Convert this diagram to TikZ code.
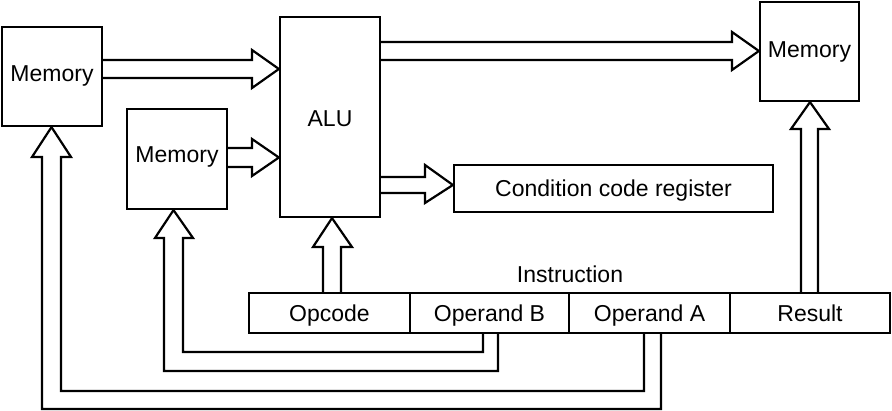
\documentclass[tikz,border=0pt]{standalone}
\usepackage{fontspec}
\setmainfont{Liberation Sans}
\begin{document}
\begin{tikzpicture}[x=1pt,y=-1pt,
  txt/.style={font=\fontsize{23}{27}\selectfont, text height=16pt, text depth=0pt},
  box/.style={draw, rectangle, inner sep=0pt, line width=2.2pt, txt},
  conn/.style={draw, line width=2.2pt, line join=miter}]
\useasboundingbox (0,0) rectangle (892,411);
% boxes
\node[box, minimum width=100pt, minimum height=99pt, text depth=5pt] (m1) at (52,76.5) {Memory};
\node[box, minimum width=100pt, minimum height=100pt, text depth=8pt] (m2) at (177,159) {Memory};
\node[box, minimum width=99pt, minimum height=99pt, text depth=3pt] (m3) at (809.5,51.5) {Memory};
\node[box, minimum width=100pt, minimum height=200pt, text height=20pt] (alu) at (330,117) {ALU};
\node[box, minimum width=319pt, minimum height=47pt, text height=17pt] (ccr) at (613.5,188.5) {Condition code register};
% instruction
\node[box, minimum width=161pt, minimum height=40pt, text height=18pt] (op) at (329.5,313) {Opcode};
\node[box, minimum width=159pt, minimum height=40pt, text height=18pt] (ob) at (489.5,313) {Operand B};
\node[box, minimum width=161pt, minimum height=40pt, text height=18pt] (oa) at (649.5,313) {Operand A};
\node[box, minimum width=160pt, minimum height=40pt, text height=18pt] (res) at (810,313) {Result};
\node[txt, inner sep=0pt] (instr) at (570,275) {Instruction};
% arrows
\draw[conn] (m1.east |- 0,60) -- (252,60) -- (252,50) -- (alu.west |- 0,69) -- (252,88) -- (252,78) -- (m1.east |- 0,78);
\draw[conn] (alu.east |- 0,42) -- (732,42) -- (732,32) -- (m3.west |- 0,51) -- (732,70) -- (732,60) -- (alu.east |- 0,60);
\draw[conn] (m2.east |- 0,148) -- (252,148) -- (252,139) -- (alu.west |- 0,157.5) -- (252,176) -- (252,167) -- (m2.east |- 0,167);
\draw[conn] (alu.east |- 0,177) -- (425,177) -- (425,165) -- (ccr.west |- 0,185) -- (425,203) -- (425,193) -- (alu.east |- 0,193);
\draw[conn] (op.north -| 323,0) -- (323,247) -- (313,247) -- (alu.south -| 332,0) -- (352,247) -- (341,247) -- (op.north -| 341,0);
\draw[conn] (ob.south -| 483,0) -- (483,352) -- (183,352) -- (183,238) -- (193,238) -- (m2.south -| 173.5,0) -- (155,238) -- (164,238) -- (164,371) -- (498,371) -- (ob.south -| 498,0);
\draw[conn] (oa.south -| 644,0) -- (644,391) -- (61,391) -- (61,157) -- (71,157) -- (m1.south -| 51.5,0) -- (32,157) -- (42,157) -- (42,409) -- (661,409) -- (oa.south -| 661,0);
\draw[conn] (res.north -| 801,0) -- (801,129) -- (791,129) -- (m3.south -| 810,0) -- (829,129) -- (818,129) -- (res.north -| 818,0);
\end{tikzpicture}
\end{document}
